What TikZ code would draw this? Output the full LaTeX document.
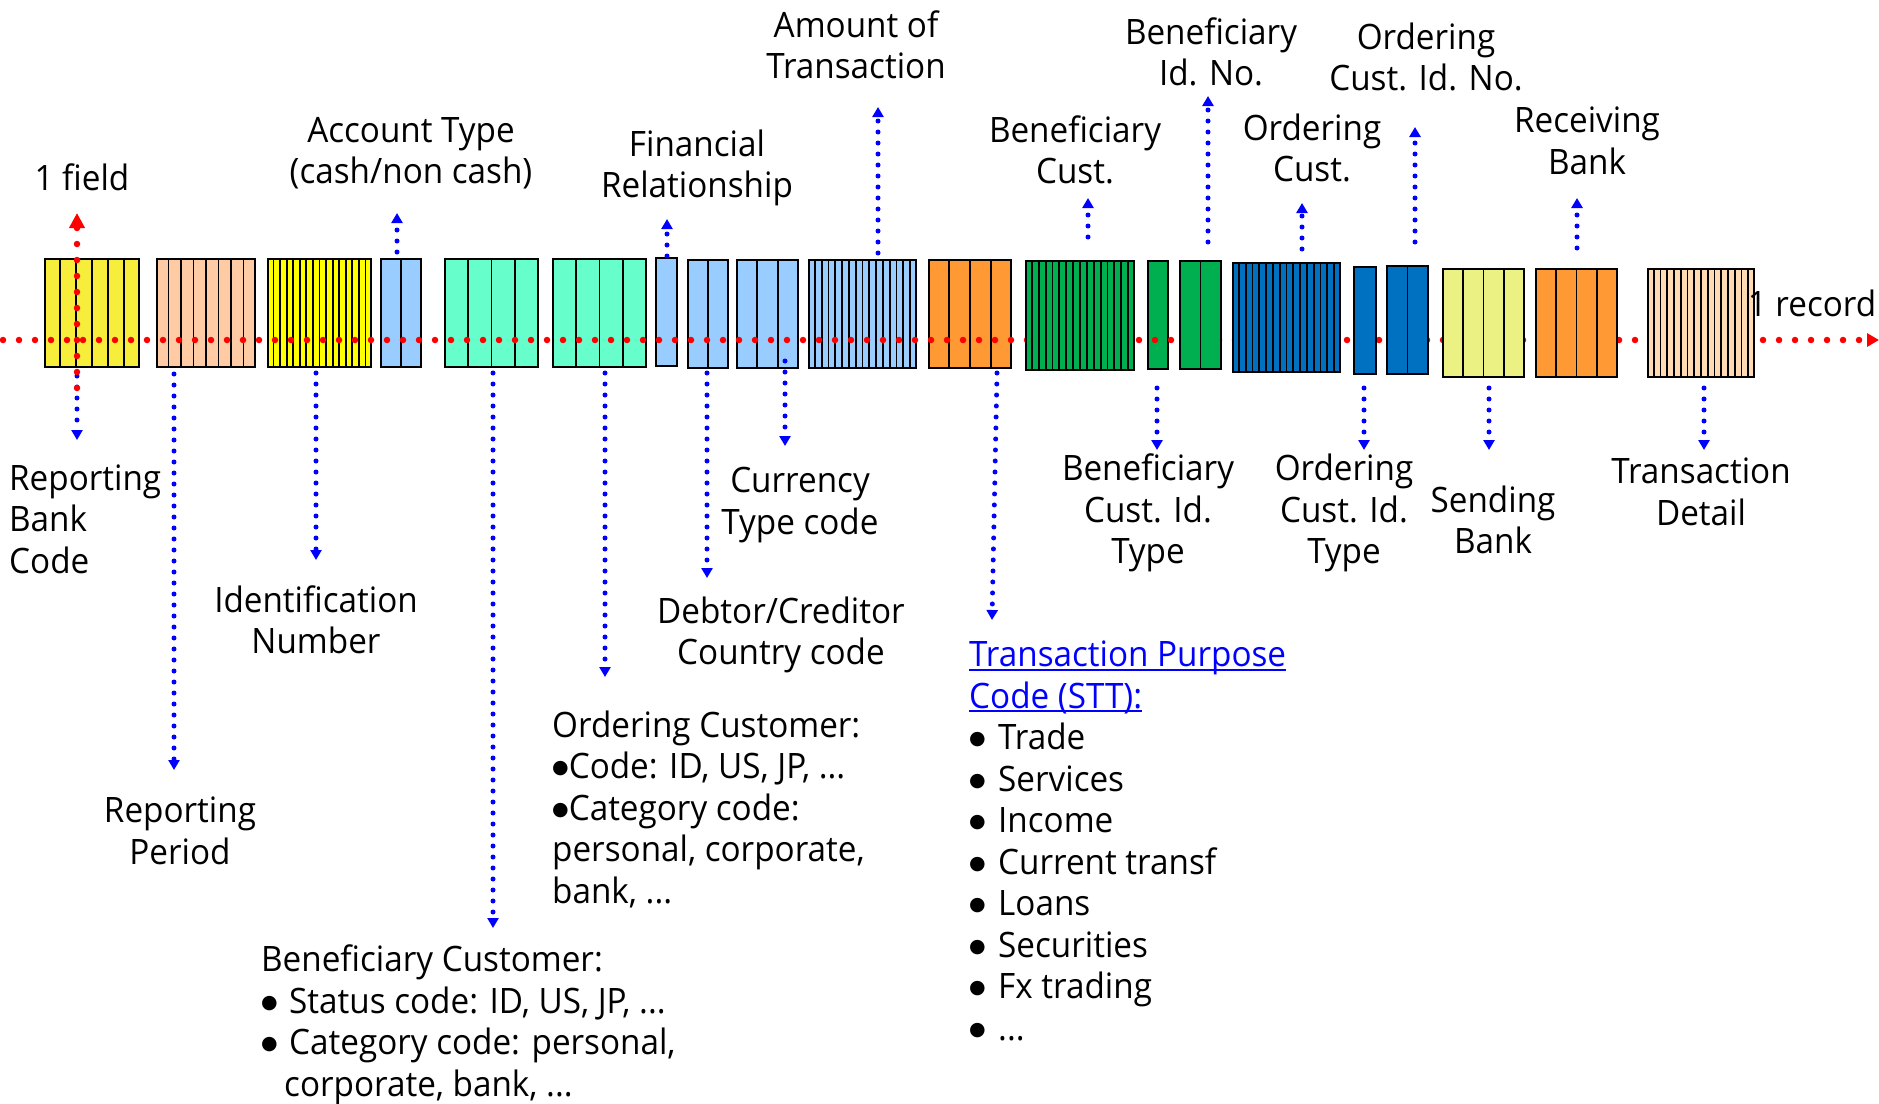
\documentclass[tikz,border=0pt]{standalone}
\usepackage{fontspec}
\setmainfont{Open Sans}[FakeStretch=0.95]
\newfontfamily\symfont{DejaVu Sans}
\usetikzlibrary{arrows.meta,fit,calc}
\definecolor{cYel}{HTML}{F6EE3A}
\definecolor{cPeach}{HTML}{FFCBA4}
\definecolor{cBYel}{HTML}{FFFF00}
\definecolor{cLBlue}{HTML}{99CCFF}
\definecolor{cAqua}{HTML}{66FFCC}
\definecolor{cOrange}{HTML}{FF9933}
\definecolor{cGreen}{HTML}{00B050}
\definecolor{cBlue}{HTML}{0070C0}
\definecolor{cLYel}{HTML}{EBF283}
\definecolor{cLPeach}{HTML}{FFDAB3}
\definecolor{cLink}{HTML}{0000FF}
\newcommand\lblfont{\fontsize{35}{41.5}\selectfont}
\newcommand\myuline[1]{\setbox0\hbox{#1}\rlap{\rule[-4pt]{\wd0}{2pt}}\box0}
\newcommand\bigdot{\raisebox{5pt}{\symfont\fontsize{19}{19}\selectfont ●}}
\newcommand\bul[1]{\makebox[#1][l]{\bigdot}}
\tikzset{
  fbox/.style={draw=black, line width=2pt, inner sep=0pt},
  stripe/.style={draw=black, line width=1.8pt},
  bdot/.style={draw=blue, line width=5pt, line cap=round, dash pattern=on 0pt off 11pt,
    -{Triangle[width=11pt,length=10pt]}},
  rdot/.style={draw=red, line width=6.5pt, line cap=round, dash pattern=on 0pt off 16pt},
  lbl/.style={font=\lblfont, align=center, inner sep=0pt, text=black},
}
\newcommand\fieldbox[7]{%
  \coordinate (#1nw) at (#2,#3);
  \coordinate (#1se) at (#4,#5);
  \node[fbox, fill=#7, fit=(#1nw)(#1se)] (#1) {};
  \ifnum#6>1
    \pgfmathtruncatemacro\lastk{#6-1}
    \foreach \k in {1,...,\lastk}{
      \draw[stripe] ($(#1.north west)!\k/#6!(#1.north east)$) -- ($(#1.south west)!\k/#6!(#1.south east)$);
    }
  \fi
}
\begin{document}
\begin{tikzpicture}[x=1pt,y=-1pt]
\useasboundingbox[fill=white] (0,0) rectangle (1879,1103);
% boxes drawn under the record line
\fieldbox{b1}{45}{259}{139}{367}{6}{cYel}
\fieldbox{b2}{157}{259}{255}{367}{8}{cPeach}
\fieldbox{b3}{268}{259}{371}{367}{16}{cBYel}
\fieldbox{b4}{381}{259}{421}{367}{2}{cLBlue}
\fieldbox{b5}{445}{259}{538}{367}{4}{cAqua}
\fieldbox{b6}{553}{259}{646}{367}{4}{cAqua}
\fieldbox{b7}{656}{258}{677}{366}{1}{cLBlue}
\fieldbox{b8}{688}{260}{728}{368}{2}{cLBlue}
\fieldbox{b9}{737}{260}{798}{368}{3}{cLBlue}
\fieldbox{b10}{809}{260}{916}{368}{16}{cLBlue}
\fieldbox{b11}{929}{260}{1011}{368}{4}{cOrange}
\fieldbox{b13}{1148}{261}{1168}{369}{1}{cGreen}
% record line
\coordinate (rl0) at (3,340);
\coordinate (rlend) at (1879,340);
\draw[rdot, -{Triangle[width=13pt,length=12pt]}] (rl0) -- (rlend);
% boxes drawn over the record line
\fieldbox{b12}{1026}{261}{1134}{370}{16}{cGreen}
\fieldbox{b14}{1180}{261}{1221}{369}{2}{cGreen}
\fieldbox{b15}{1233}{263}{1340}{372}{16}{cBlue}
\fieldbox{b16}{1354}{267}{1376}{374}{1}{cBlue}
\fieldbox{b17}{1387}{266}{1428}{374}{2}{cBlue}
\fieldbox{b18}{1443}{269}{1524}{377}{4}{cLYel}
\fieldbox{b19}{1536}{269}{1617}{377}{4}{cOrange}
\fieldbox{b20}{1648}{269}{1754}{377}{16}{cLPeach}

% arrow tips
\coordinate (t1) at (77,440);
\coordinate (t2) at (174,770);
\coordinate (t3) at (316,560);
\coordinate (t4) at (397,213);
\coordinate (t5) at (493,928);
\coordinate (t6) at (605,677);
\coordinate (t7) at (667,219);
\coordinate (t8) at (707,578);
\coordinate (t9) at (785,446);
\coordinate (t10) at (878,107);
\coordinate (t11) at (992,620);
\coordinate (t12) at (1088,198);
\coordinate (t13) at (1157,450);
\coordinate (t14) at (1208,96);
\coordinate (t15) at (1302,203);
\coordinate (t16) at (1364,450);
\coordinate (t17) at (1415,127);
\coordinate (t18) at (1489,450);
\coordinate (t19) at (1577,198);
\coordinate (t20) at (1704,450);

% blue arrows
\draw[bdot] ($(b1.south -| t1)+(0,8)$) -- (t1);
\draw[bdot] ($(b2.south -| t2)+(0,6)$) -- (t2);
\draw[bdot] ($(b3.south -| t3)+(0,5)$) -- (t3);
\draw[bdot] ($(b4.north -| t4)+(0,-6)$) -- (t4);
\draw[bdot] ($(b5.south -| t5)+(0,5)$) -- (t5);
\draw[bdot] ($(b6.south -| t6)+(0,5)$) -- (t6);
\draw[bdot] ($(b7.north -| t7)+(0,-1)$) -- (t7);
\draw[bdot] ($(b8.south -| t8)+(0,4)$) -- (t8);
\draw[bdot] ($(b9.south -| t9)+(0,-8)$) -- (t9);
\draw[bdot] ($(b10.north -| t10)+(0,-6)$) -- (t10);
\draw[bdot] ($(b11.south -| t11)+(5,4)$) -- (t11);
\draw[bdot] ($(b12.north -| t12)+(0,-23)$) -- (t12);
\draw[bdot] ($(b13.south -| t13)+(0,18)$) -- (t13);
\draw[bdot] ($(b14.north -| t14)+(0,-18)$) -- (t14);
\draw[bdot] ($(b15.north -| t15)+(0,-13)$) -- (t15);
\draw[bdot] ($(b16.south -| t16)+(0,13)$) -- (t16);
\draw[bdot] ($(b17.north -| t17)+(0,-23)$) -- (t17);
\draw[bdot] ($(b18.south -| t18)+(0,10)$) -- (t18);
\draw[bdot] ($(b19.north -| t19)+(0,-20)$) -- (t19);
\draw[bdot] ($(b20.south -| t20)+(0,10)$) -- (t20);

% field axis (red, vertical)
\coordinate (rv0) at (77,388);
\coordinate (fieldtip) at (77,213);
\draw[rdot, -{Triangle[width=15pt,length=15pt]}] (rv0) -- (fieldtip);

% labels above
\node[lbl] (lfield) at (82,177) {1 field};
\node[lbl] (lacct) at (411,153) {Account Type\\(cash/non cash)};
\node[lbl] (lfin) at (697,168) {Financial\\Relationship};
\node[lbl] (lamt) at (856,45) {Amount of\\Transaction};
\node[lbl] (lbenc) at (1075,150) {Beneficiary\\Cust.};
\node[lbl] (lbenid) at (1211,52) {Beneficiary\\Id. No.};
\node[lbl] (lordc) at (1312,148) {Ordering\\Cust.};
\node[lbl] (lordid) at (1426,57) {Ordering\\Cust. Id. No.};
\node[lbl] (lrecv) at (1587,141) {Receiving\\Bank};
\node[lbl] (lrec) at (1812,303) {1 record};

% labels below
\node[lbl, align=left, anchor=west] (lrbc) at (9,519) {Reporting\\Bank\\Code};
\node[lbl] (lper) at (180,831) {Reporting\\Period};
\node[lbl] (lidn) at (316,620) {Identification\\Number};
\node[lbl] (lcur) at (800,505) {Currency\\Type code};
\node[lbl] (ldeb) at (781,635) {Debtor/Creditor\\Country code};
\node[lbl] (lbent) at (1148,513) {Beneficiary\\Cust. Id.\\Type};
\node[lbl] (lordt) at (1344,513) {Ordering\\Cust. Id.\\Type};
\node[lbl] (lsend) at (1493,520) {Sending\\Bank};
\node[lbl] (ldet) at (1701,492) {Transaction\\Detail};

\node[lbl, align=left, anchor=west] (lordcust) at (552,809)
  {Ordering Customer:\\\bigdot Code: ID, US, JP, ...\\\bigdot Category code:\\personal, corporate,\\bank, ...};
\node[lbl, align=left, anchor=west] (lbencust) at (261,1025)
  {Beneficiary Customer:\\\bul{28pt}Status code: ID, US, JP, ...\\\bul{28pt}Category code: personal,\\\hspace*{23pt}corporate, bank, ...};
\node[lbl, align=left, anchor=north west] (lstt) at (969,641)
  {\textcolor{cLink}{\myuline{Transaction Purpose}}\\
   \textcolor{cLink}{\myuline{Code (STT):}}\\
   \bul{29pt}Trade\\
   \bul{29pt}Services\\
   \bul{29pt}Income\\
   \bul{29pt}Current transf\\
   \bul{29pt}Loans\\
   \bul{29pt}Securities\\
   \bul{29pt}Fx trading\\
   \bul{29pt}...};
\end{tikzpicture}
\end{document}
